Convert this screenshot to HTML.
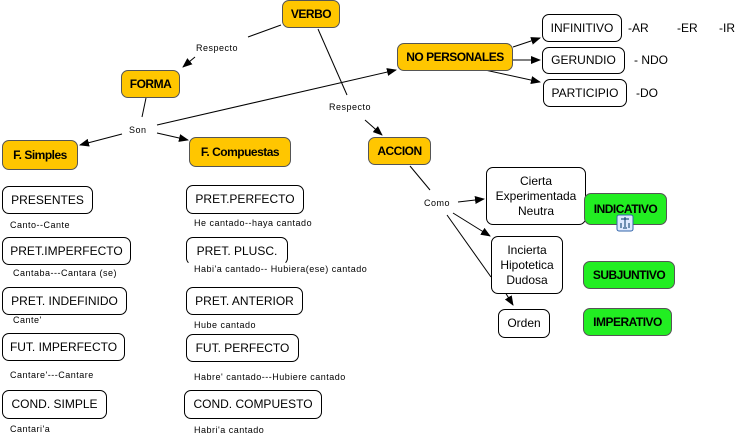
<!DOCTYPE html>
<html><head><meta charset="utf-8"><style>
body{margin:0;width:742px;height:440px;background:#fff;position:relative;overflow:hidden;font-family:"Liberation Sans",sans-serif}
.n{position:absolute;box-sizing:border-box;border:1px solid #000;border-radius:7px;display:flex;align-items:center;justify-content:center;text-align:center;font-size:12px;color:#000;line-height:15px}
.y{background:#FFC600;font-weight:bold;letter-spacing:-0.5px;border-color:#555}
.g{background:#22EE22;font-weight:bold;letter-spacing:-0.5px;border-color:#555}
.w{background:#fff}
.t{position:absolute;font-size:9px;letter-spacing:0.5px;white-space:nowrap}
.s{position:absolute;font-size:12px;white-space:nowrap}
svg{position:absolute;left:0;top:0}
</style></head><body>
<svg width="742" height="440">
<defs><marker id="a" markerWidth="10" markerHeight="8" refX="9" refY="4" orient="auto" markerUnits="userSpaceOnUse"><path d="M0,0L10,4L0,8z" fill="#000"/></marker></defs>
<g stroke="#000" stroke-width="1" fill="none">
<line x1="281" y1="25" x2="248" y2="37"/>
<line x1="195" y1="57" x2="183" y2="67" marker-end="url(#a)"/>
<line x1="318" y1="29" x2="347" y2="95"/>
<line x1="365" y1="120" x2="382" y2="135" marker-end="url(#a)"/>
<line x1="146" y1="98" x2="142" y2="117"/>
<line x1="122" y1="134" x2="80" y2="145" marker-end="url(#a)"/>
<line x1="157" y1="133" x2="188" y2="140" marker-end="url(#a)"/>
<line x1="157" y1="125" x2="396" y2="70" marker-end="url(#a)"/>
<line x1="513" y1="47" x2="540" y2="38" marker-end="url(#a)"/>
<line x1="513" y1="60" x2="540" y2="60" marker-end="url(#a)"/>
<line x1="485" y1="70" x2="540" y2="82" marker-end="url(#a)"/>
<line x1="410" y1="166" x2="430" y2="190"/>
<line x1="458" y1="202" x2="484" y2="199" marker-end="url(#a)"/>
<line x1="453" y1="213" x2="490" y2="236" marker-end="url(#a)"/>
<line x1="447" y1="215" x2="491" y2="277"/>
<line x1="505" y1="292" x2="513" y2="305" marker-end="url(#a)"/>
</g>
</svg>
<div class="n y" style="left:282px;top:0;width:58px;height:28px">VERBO</div>
<div class="n y" style="left:121px;top:70px;width:59px;height:28px">FORMA</div>
<div class="n y" style="left:2px;top:140px;width:76px;height:30px">F. Simples</div>
<div class="n y" style="left:189px;top:137px;width:102px;height:30px">F. Compuestas</div>
<div class="n y" style="left:397px;top:43px;width:116px;height:28px">NO PERSONALES</div>
<div class="n y" style="left:368px;top:137px;width:63px;height:28px">ACCION</div>
<div class="n w" style="left:542px;top:14px;width:80px;height:28px">INFINITIVO</div>
<div class="n w" style="left:542px;top:47px;width:83px;height:27px">GERUNDIO</div>
<div class="n w" style="left:543px;top:79px;width:84px;height:28px">PARTICIPIO</div>
<div class="s" style="left:628px;top:21px">-AR</div>
<div class="s" style="left:677px;top:21px">-ER</div>
<div class="s" style="left:719px;top:21px">-IR</div>
<div class="s" style="left:634px;top:53px">- NDO</div>
<div class="s" style="left:636px;top:86px">-DO</div>
<div class="n w" style="left:486px;top:167px;width:100px;height:58px">Cierta<br>Experimentada<br>Neutra</div>
<div class="n g" style="left:584px;top:193px;width:83px;height:32px">INDICATIVO</div>
<div class="n w" style="left:491px;top:236px;width:72px;height:58px">Incierta<br>Hipotetica<br>Dudosa</div>
<div class="n g" style="left:583px;top:261px;width:92px;height:28px">SUBJUNTIVO</div>
<div class="n w" style="left:498px;top:309px;width:52px;height:29px">Orden</div>
<div class="n g" style="left:583px;top:308px;width:89px;height:28px">IMPERATIVO</div>
<div class="t" style="left:196px;top:43px">Respecto</div>
<div class="t" style="left:329px;top:102px">Respecto</div>
<div class="t" style="left:129px;top:125px">Son</div>
<div class="t" style="left:424px;top:198px">Como</div>
<div class="n w" style="left:2px;top:186px;width:91px;height:28px">PRESENTES</div>
<div class="n w" style="left:2px;top:237px;width:129px;height:28px">PRET.IMPERFECTO</div>
<div class="n w" style="left:2px;top:287px;width:125px;height:28px">PRET. INDEFINIDO</div>
<div class="n w" style="left:2px;top:333px;width:123px;height:28px">FUT. IMPERFECTO</div>
<div class="n w" style="left:2px;top:390px;width:105px;height:29px">COND. SIMPLE</div>
<div class="n w" style="left:186px;top:185px;width:118px;height:29px">PRET.PERFECTO</div>
<div class="n w" style="left:186px;top:237px;width:102px;height:28px;border-bottom-color:transparent">PRET. PLUSC.</div>
<div class="n w" style="left:186px;top:287px;width:117px;height:28px">PRET. ANTERIOR</div>
<div class="n w" style="left:186px;top:334px;width:113px;height:28px">FUT. PERFECTO</div>
<div class="n w" style="left:184px;top:390px;width:138px;height:29px">COND. COMPUESTO</div>
<div class="t" style="left:10px;top:220px">Canto--Cante</div>
<div class="t" style="left:13px;top:268px">Cantaba---Cantara (se)</div>
<div class="t" style="left:13px;top:315px">Cante'</div>
<div class="t" style="left:10px;top:370px">Cantare'---Cantare</div>
<div class="t" style="left:10px;top:424px">Cantari'a</div>
<div class="t" style="left:194px;top:218px">He cantado--haya cantado</div>
<div class="t" style="left:194px;top:264px">Habi'a cantado-- Hubiera(ese) cantado</div>
<div class="t" style="left:194px;top:320px">Hube cantado</div>
<div class="t" style="left:194px;top:372px">Habre' cantado---Hubiere cantado</div>
<div class="t" style="left:194px;top:425px">Habri'a cantado</div>
<svg width="742" height="440">
<rect x="617" y="215" width="16" height="16" rx="2" fill="#dde8ff" stroke="#36a"/>
<path d="M621,219h8M625,217v10M621,223v5M629,223v5M623,228h4" stroke="#036" fill="none"/>
</svg>
</body></html>
